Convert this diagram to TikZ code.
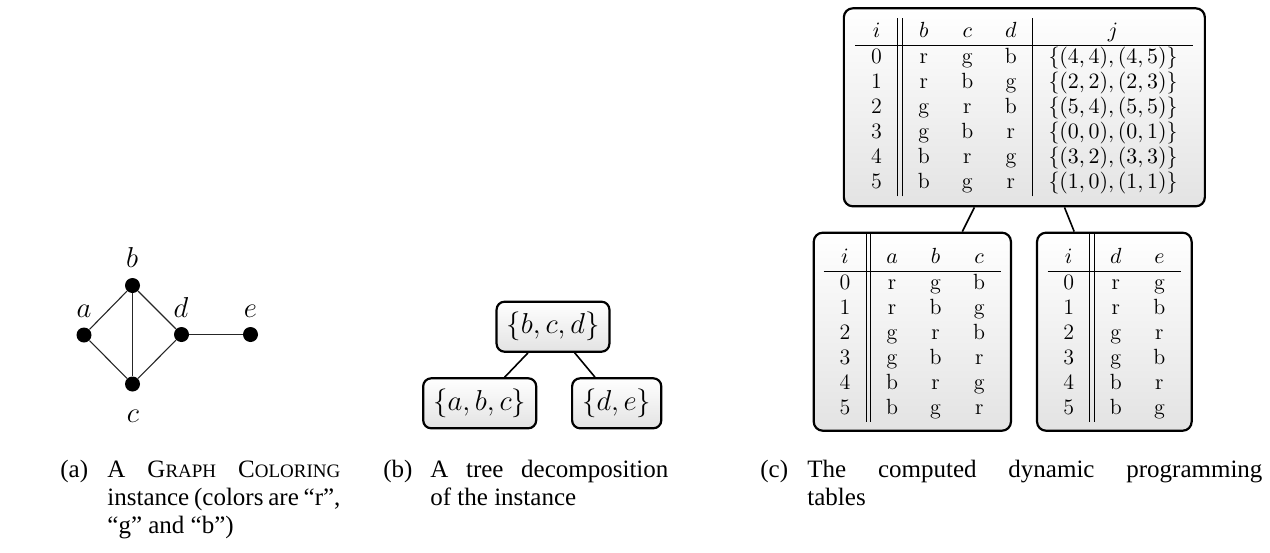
\documentclass[tikz,border=0pt]{standalone}
\usepackage{fontspec}
\newfontfamily\capfont{Liberation Serif}
\newcommand\subcap[2]{\hangindent=23.5pt\hangafter=1\noindent\strut\makebox[23.5pt][l]{#1}#2\par}
\newcommand\fsc{\fontsize{9.5pt}{14pt}\selectfont}
\setlength\tabcolsep{7.9pt}
\setlength\doublerulesep{2.1pt}
\setlength\arrayrulewidth{0.5pt}
\begin{document}
\begin{tikzpicture}[x=0.5pt,y=-0.5pt,
  vtx/.style={circle,fill=black,inner sep=0pt,minimum size=7.5pt},
  gedge/.style={line width=0.55pt,black!85},
  lbl/.style={inner sep=0pt,anchor=base,font=\fontsize{14}{16}\selectfont},
  bag/.style={draw,line width=1.1pt,rounded corners=4pt,top color=white,bottom color=black!11,inner xsep=5pt,minimum height=25pt,font=\fontsize{15.5}{18}\selectfont},
  tedge/.style={line width=0.8pt},
  dptab/.style={draw,line width=1.1pt,rounded corners=4.5pt,top color=white,bottom color=black!11,inner sep=0pt,minimum height=99pt,font=\fontsize{11}{12.5}\selectfont},
  capnode/.style={inner sep=0pt,anchor=north west,align=justify,font=\capfont\fontsize{12.5}{14}\selectfont}]
\useasboundingbox (0,0) rectangle (1270,552);

% (a) graph
\node[vtx] (a) at (84,335) {};
\node[vtx] (b) at (132.5,285.5) {};
\node[vtx] (d) at (181.5,334.5) {};
\node[vtx] (c) at (132.5,384) {};
\node[vtx] (e) at (250.5,334.5) {};
\draw[gedge] (a) -- (b);
\draw[gedge] (a) -- (c);
\draw[gedge] (b) -- (c);
\draw[gedge] (b) -- (d);
\draw[gedge] (c) -- (d);
\draw[gedge] (d) -- (e);
\node[lbl] (la) at (84,317) {$a$};
\node[lbl] (lb) at (132,267) {$b$};
\node[lbl] (ld) at (181,317) {$d$};
\node[lbl] (le) at (250.5,317) {$e$};
\node[lbl] (lc) at (133,422) {$c$};

% (b) tree decomposition
\node[bag] (B0) at (553,326.7) {$\{b,c,d\}$};
\node[bag] (B1) at (479.7,403.3) {$\{a,b,c\}$};
\node[bag] (B2) at (616.7,403.3) {$\{d,e\}$};
\draw[tedge] (B0) -- (B1);
\draw[tedge] (B0) -- (B2);

% (c) tables
\node[dptab,minimum width=180.5pt] (T0) at (1024.35,107.3) {%
\begin{tabular}{c||ccc|c}
\rule{0pt}{9.85pt}$i$ & $b$ & $c$ & $d$ & $j$\\ \hline
0 & r & g & b & $\{(4,4),(4,5)\}$\\
1 & r & b & g & $\{(2,2),(2,3)\}$\\
2 & g & r & b & $\{(5,4),(5,5)\}$\\
3 & g & b & r & $\{(0,0),(0,1)\}$\\
4 & b & r & g & $\{(3,2),(3,3)\}$\\
5 & b & g & r & $\{(1,0),(1,1)\}$
\end{tabular}};
\node[dptab,minimum width=98.6pt] (T1) at (912.35,331.7) {%
\raisebox{1.85pt}[\height][\depth]{\begin{tabular}{c||ccc}
\rule{0pt}{14.5pt}$i$ & $a$ & $b$ & $c$\\ \hline
0 & r & g & b\\
1 & r & b & g\\
2 & g & r & b\\
3 & g & b & r\\
4 & b & r & g\\
5 & b & g & r
\end{tabular}}};
\node[dptab,minimum width=77.3pt] (T2) at (1114.35,331.7) {%
\raisebox{1.85pt}[\height][\depth]{\begin{tabular}{c||cc}
\rule{0pt}{14.5pt}$i$ & $d$ & $e$\\ \hline
0 & r & g\\
1 & r & b\\
2 & g & r\\
3 & g & b\\
4 & b & r\\
5 & b & g
\end{tabular}}};
\draw[tedge] (T0) -- (T1);
\draw[tedge] (T0) -- (T2);

% captions
\node[capnode,text width=140pt] (capa) at (60,457) {\subcap{(a)}{A G{\fsc RAPH} C{\fsc OLORING}\linebreak instance (colors are “r”,\linebreak “g” and “b”)}};
\node[capnode,text width=142.5pt] (capb) at (383,457) {\subcap{(b)}{A tree decomposition\linebreak of the instance}};
\node[capnode,text width=251pt] (capc) at (760,457) {\subcap{(c)}{The computed dynamic programming\linebreak tables}};
\end{tikzpicture}
\end{document}
